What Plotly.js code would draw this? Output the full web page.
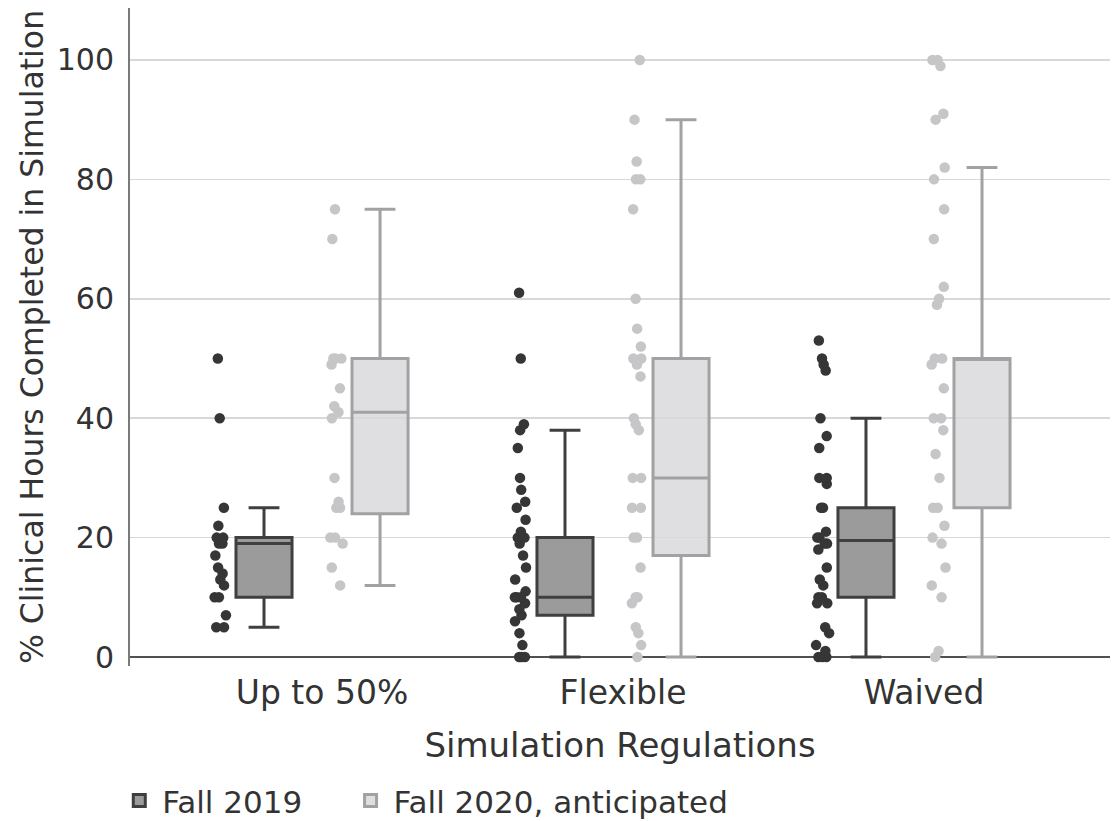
<!DOCTYPE html>
<html>
<head>
<meta charset="utf-8">
<script src="https://cdn.plot.ly/plotly-3.0.1.min.js"></script>
<style>
  html, body { margin: 0; padding: 0; background: #ffffff; }
  #chart { width: 1112px; height: 821px; }
</style>
</head>
<body>
<div id="chart"></div>
<script>
// Categories and series
var categories = ["Up to 50%", "Flexible", "Waived"];
var seriesNames = ["Fall 2019", "Fall 2020, anticipated"];

// Box statistics (per category)
var q1_2019 = [10, 7, 10];
var median_2019 = [19, 10, 19.5];
var q3_2019 = [20, 20, 25];
var lower_2019 = [5, 0, 0];
var upper_2019 = [25, 38, 40];

var q1_2020 = [24, 17, 25];
var median_2020 = [41, 30, 50];
var q3_2020 = [50, 50, 50];
var lower_2020 = [12, 0, 0];
var upper_2020 = [75, 90, 82];

// Individual responses (points)
var pts2019_upto50 = [50, 40, 25, 22, 20, 20, 19, 19, 17, 15, 14, 13, 12, 10, 10, 7, 5, 5];
var pts2019_flexible = [61, 50, 39, 38, 35, 30, 28, 26, 25, 23, 21, 20, 20, 19, 17, 15, 13, 11, 10, 10, 10, 9, 8, 7, 6, 4, 2, 0, 0, 0];
var pts2019_waived = [53, 50, 49, 48, 40, 37, 35, 30, 30, 29, 25, 25, 21, 20, 20, 19, 19, 18, 15, 13, 12, 10, 10, 9, 9, 5, 4, 2, 1, 0, 0, 0];

var pts2020_upto50 = [75, 70, 50, 50, 50, 49, 45, 42, 41, 40, 30, 26, 25, 25, 20, 20, 19, 15, 12];
var pts2020_flexible = [100, 90, 83, 80, 80, 75, 60, 55, 52, 50, 50, 49, 47, 40, 39, 38, 30, 30, 25, 25, 20, 20, 15, 10, 10, 9, 5, 4, 2, 0];
var pts2020_waived = [100, 100, 99, 91, 90, 82, 80, 75, 70, 62, 60, 59, 50, 50, 49, 45, 40, 40, 38, 34, 30, 25, 25, 22, 20, 19, 15, 12, 10, 1, 0];

// Y axis ticks
var yTicks = [0, 20, 40, 60, 80, 100];

// ---- build traces ----
function flatten(groups) {
  var xs = [], ys = [];
  groups.forEach(function (g, i) {
    g.forEach(function (v) { xs.push(categories[i]); ys.push(v); });
  });
  return { x: xs, y: ys };
}
var p2019 = flatten([pts2019_upto50, pts2019_flexible, pts2019_waived]);
var p2020 = flatten([pts2020_upto50, pts2020_flexible, pts2020_waived]);

var FONT = "DejaVu Sans, Verdana, sans-serif";
var TXT = "#333333";

var boxStyle2019 = { fill: "#9b9b9b", line: "#3f3f3f", pt: "#363636" };
var boxStyle2020 = { fill: "rgba(216,216,220,0.82)", line: "#a2a2a4", pt: "#c6c6c8" };

function statsTrace(name, q1, med, q3, lo, hi, st, grp, leg) {
  return {
    type: "box", name: name, x: categories,
    q1: q1, median: med, q3: q3, lowerfence: lo, upperfence: hi,
    boxpoints: false, offsetgroup: grp, legend: leg,
    fillcolor: st.fill, line: { color: st.line, width: 3 },
    whiskerwidth: 0.55, showlegend: true, hoverinfo: "y"
  };
}
function pointsTrace(name, p, st, grp) {
  return {
    type: "box", name: name, x: p.x, y: p.y,
    boxpoints: "all", jitter: 0.28, pointpos: -1.55,
    offsetgroup: grp,
    fillcolor: "rgba(0,0,0,0)", line: { color: "rgba(0,0,0,0)", width: 0 },
    marker: { color: st.pt, size: 10.5, line: { width: 0 } },
    showlegend: false, hoveron: "points", hoverinfo: "y"
  };
}

var data = [
  statsTrace(seriesNames[0], q1_2019, median_2019, q3_2019, lower_2019, upper_2019, boxStyle2019, "g2019", "legend"),
  statsTrace(seriesNames[1], q1_2020, median_2020, q3_2020, lower_2020, upper_2020, boxStyle2020, "g2020", "legend2"),
  pointsTrace(seriesNames[0], p2019, boxStyle2019, "g2019"),
  pointsTrace(seriesNames[1], p2020, boxStyle2020, "g2020")
];

var legendBase = {
  orientation: "h", xanchor: "left", y: -0.205, yanchor: "middle",
  font: { family: FONT, size: 31, color: TXT },
  bgcolor: "rgba(0,0,0,0)", itemwidth: 36,
  itemclick: false, itemdoubleclick: false
};

var layout = {
  width: 1112, height: 821,
  margin: { l: 130, r: 2, t: 8, b: 155, autoexpand: false },
  paper_bgcolor: "#ffffff", plot_bgcolor: "rgba(0,0,0,0)",
  font: { family: FONT, color: TXT },
  boxmode: "group", boxgap: 0.229, boxgroupgap: 0.517,
  xaxis: {
    type: "category", categoryorder: "array", categoryarray: categories,
    range: [-0.638, 2.618], automargin: false,
    showline: false, showgrid: false, zeroline: false, ticks: "",
    tickfont: { family: FONT, size: 33, color: TXT },
    ticklabelstandoff: 4,
    title: { text: "Simulation Regulations", font: { family: FONT, size: 34, color: TXT }, standoff: 22 }
  },
  yaxis: {
    range: [-1.5, 108.7], automargin: false,
    tickvals: yTicks, ticktext: yTicks.map(String),
    showline: true, linecolor: "#7a7a7a", linewidth: 2,
    showgrid: true, gridcolor: "#d8d8d8", gridwidth: 1.5,
    zeroline: true, zerolinecolor: "#505050", zerolinewidth: 2.5,
    ticks: "", ticklabelstandoff: 8,
    tickfont: { family: FONT, size: 30, color: TXT },
    title: { text: "% Clinical Hours Completed in Simulation", font: { family: FONT, size: 31.5, color: TXT }, standoff: 4 }
  },
  legend: Object.assign({}, legendBase, { x: -0.014 }),
  legend2: Object.assign({}, legendBase, { x: 0.222 }),
  showlegend: true
};

Plotly.newPlot("chart", data, layout, { displayModeBar: false, staticPlot: true });
</script>
</body>
</html>
